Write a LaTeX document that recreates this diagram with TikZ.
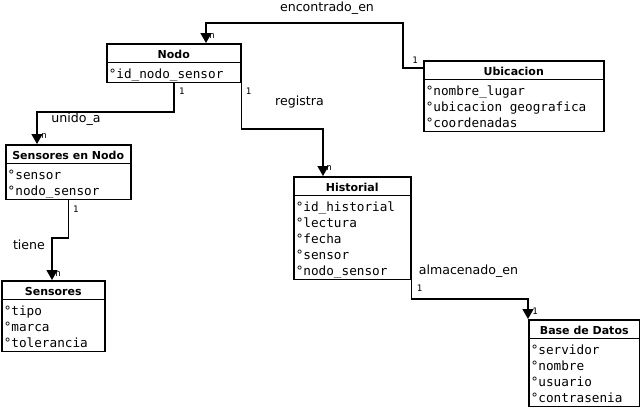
\documentclass[tikz,border=0pt]{standalone}
\usepackage{fontspec}
\setmainfont{DejaVu Sans}
\newfontfamily\monofont{DejaVu Sans Mono}
\usetikzlibrary{calc}
\usetikzlibrary{positioning}
\usetikzlibrary{shapes.multipart}
\usetikzlibrary{arrows.meta}
\newlength{\anchocaja}
\newcommand{\titulo}[1]{\hbox to \anchocaja{\hss\raisebox{0pt}[12.5pt][2pt]{\rmfamily\fontsize{11}{13}\selectfont\bfseries #1}\hss}}
\newcommand{\campo}[1]{\hbox to \anchocaja{\raisebox{0pt}[14pt][2pt]{°#1}\hfil}}
\newcommand{\campos}[1]{\vbox{\baselineskip=16pt \lineskiplimit=-10pt #1}}
\tikzset{ancho/.code={\setlength{\anchocaja}{#1}}}
\tikzstyle{entidad} = [draw, line width=1.5pt, rectangle split, rectangle split parts=2, anchor=north west, inner xsep=2pt, inner ysep=1.25pt, font=\monofont\fontsize{12.7}{16}\selectfont]
\tikzstyle{relacion} = [line width=1.5pt, -{Triangle[width=11pt,length=10pt]}]
\tikzstyle{etiqueta} = [inner sep=0pt, font=\fontsize{12.6}{14}\selectfont]
\tikzstyle{card} = [inner sep=0pt, font=\monofont\fontsize{9}{10}\selectfont]

\begin{document}
\begin{tikzpicture}[x=1pt, y=-1pt]
\useasboundingbox (0,0) rectangle (640,407);
\node[entidad, ancho=130pt] (ent_nodo) at (106,43) {\titulo{Nodo}\nodepart{two}\campos{\campo{id\_nodo\_sensor}}};
\node[entidad, ancho=176pt] (ent_ubicacion) at (423,60) {\titulo{Ubicacion}\nodepart{two}\campos{
    \campo{nombre\_lugar}
    \campo{ubicacion geografica}
    \campo{coordenadas}}};
\node[entidad, ancho=121pt] (ent_sensnodo) at (5,144) {\titulo{Sensores en Nodo}\nodepart{two}\campos{
    \campo{sensor}
    \campo{nodo\_sensor}}};
\node[entidad, ancho=99pt] (ent_sensores) at (1,280) {\titulo{Sensores}\nodepart{two}\campos{
    \campo{tipo}
    \campo{marca}
    \campo{tolerancia}}};
\node[entidad, ancho=113pt] (ent_historial) at (293,176) {\titulo{Historial}\nodepart{two}\campos{
    \campo{id\_historial}
    \campo{lectura}
    \campo{fecha}
    \campo{sensor}
    \campo{nodo\_sensor}}};
\node[entidad, ancho=107pt] (ent_bd) at (528,319) {\titulo{Base de Datos}\nodepart{two}\campos{
    \campo{servidor}
    \campo{nombre}
    \campo{usuario}
    \campo{contrasenia}}};

\coordinate (enc_start) at ($(ent_ubicacion.north west)+(0,8)$);
\draw[relacion] (enc_start) -- ++(-20,0) |- ($(ent_nodo.north west)+(100,-20)$) -- ($(ent_nodo.north west)+(100,0)$);
\draw[relacion] (ent_nodo.south) |- ($(ent_sensnodo.north west)+(32,-32)$) -- ($(ent_sensnodo.north west)+(32,0)$);
\draw[relacion] (ent_nodo.south east) |- ($(ent_historial.north west)+(30,-47)$) -- ($(ent_historial.north west)+(30,0)$);
\draw[relacion] (ent_sensnodo.south) |- ($(ent_sensores.north west)+(51,-42)$) -- ($(ent_sensores.north west)+(51,0)$);
\draw[relacion] (ent_historial.south east) |- ($(ent_bd.north west)+(0,-20)$) -- (ent_bd.north west);

\node[etiqueta] (lbl_encontrado) at ($(ent_nodo.north west)+(221,-35)$) {encontrado\_en};
\node[etiqueta] (lbl_registra) at ($(ent_nodo.south east)+(58,19)$) {registra};
\node[etiqueta] (lbl_unido) at ($(ent_sensnodo.north west)+(71,-25)$) {unido\_a};
\node[etiqueta] (lbl_tiene) at ($(ent_sensores.north west)+(28,-35)$) {tiene};
\node[etiqueta] (lbl_almacenado) at ($(ent_historial.south east)+(57,-9)$) {almacenado\_en};

\node[card] (card_nodo_n) at ($(ent_nodo.north west)+(106,-7)$) {n};
\node[card] (card_ubic_1) at ($(ent_ubicacion.north west)+(-8,0)$) {1};
\node[card] (card_unido_1) at ($(ent_nodo.south)+(8,8)$) {1};
\node[card] (card_registra_1) at ($(ent_nodo.south east)+(7,8)$) {1};
\node[card] (card_sensnodo_n) at ($(ent_sensnodo.north west)+(39,-8)$) {n};
\node[card] (card_historial_n) at ($(ent_historial.north west)+(36,-8)$) {n};
\node[card] (card_tiene_1) at ($(ent_sensnodo.south)+(7.5,9)$) {1};
\node[card] (card_sensores_n) at ($(ent_sensores.north west)+(57,-6)$) {n};
\node[card] (card_almac_1) at ($(ent_historial.south east)+(8,8)$) {1};
\node[card] (card_bd_1) at ($(ent_bd.north west)+(7,-8)$) {1};
\end{tikzpicture}
\end{document}
